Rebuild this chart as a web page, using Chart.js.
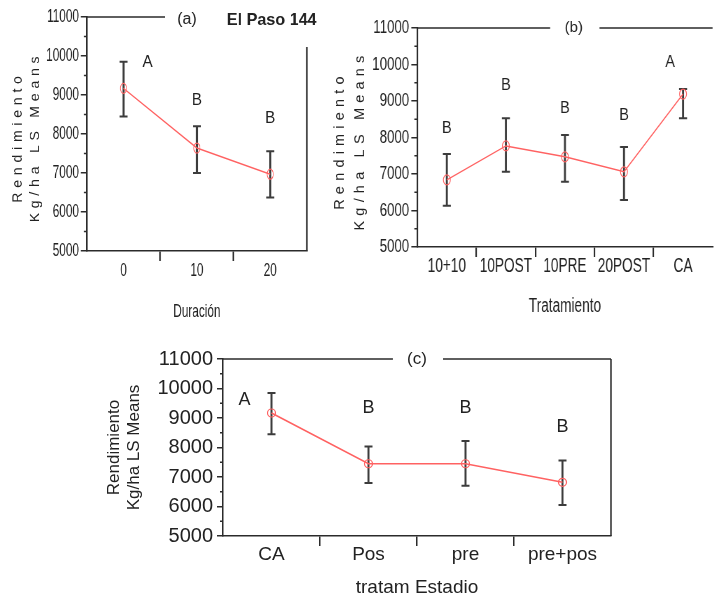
<!DOCTYPE html>
<html>
<head>
<meta charset="utf-8">
<script src="https://cdn.jsdelivr.net/npm/chart.js@4.4.1/dist/chart.umd.min.js"></script>
<style>
  body { margin: 0; background: #fff; }
  .panel { position: absolute; transform-origin: 0 0; }
</style>
</head>
<body>
<!-- panels (a) and (b) are drawn wider and squeezed, like the condensed original -->
<div class="panel" style="left:0;top:0;transform:scaleX(0.62)"><canvas id="chartA" width="516" height="330"></canvas></div>
<div class="panel" style="left:320px;top:0;transform:scaleX(0.7)"><canvas id="chartB" width="567" height="330"></canvas></div>
<div class="panel" style="left:0;top:330px"><canvas id="chartC" width="717" height="267"></canvas></div>

<script>
// (a) Duración
const duracion = ["0", "10", "20"];
const duracionMedia = [9170, 7640, 6970];
const duracionInf = [8450, 7000, 6370];
const duracionSup = [9850, 8200, 7560];
const duracionLetras = ["A", "B", "B"];
const duracionLetrasY = [9850, 8870, 8410];

// (b) Tratamiento
const tratamiento = ["10+10", "10POST", "10PRE", "20POST", "CA"];
const tratamientoMedia = [6840, 7770, 7470, 7060, 9190];
const tratamientoInf = [6130, 7060, 6790, 6290, 8530];
const tratamientoSup = [7550, 8530, 8070, 7740, 9330];
const tratamientoLetras = ["B", "B", "B", "B", "A"];
const tratamientoLetrasY = [8260, 9440, 8810, 8620, 10070];

// (c) tratam Estadio
const estadio = ["CA", "Pos", "pre", "pre+pos"];
const estadioMedia = [9170, 7450, 7450, 6820];
const estadioInf = [8450, 6800, 6700, 6050];
const estadioSup = [9850, 8030, 8220, 7560];
const estadioLetras = ["A", "B", "B", "B"];
const estadioLetrasY = [9610, 9340, 9340, 8700];

const yMin = 5000;
const yMax = 11000;
const yTitulo = ["Rendimiento", "Kg/ha LS Means"];

const RED = "#ff6262";
const AXIS = "#2b2b2b";
const TEXT = "#222";
const ERR = "#3c3c3c";
const ARIAL = "'Liberation Sans', Arial, sans-serif";

function errorBars(sx) {
    return {
        id: "errorBars",
        beforeDatasetsDraw(chart) {
            const { ctx, scales: { y } } = chart;
            const ds = chart.data.datasets[0];
            const meta = chart.getDatasetMeta(0);
            const cap = 4 / sx;
            ctx.save();
            ctx.strokeStyle = ERR;
            meta.data.forEach((pt, i) => {
                const top = y.getPixelForValue(ds.errHi[i]);
                const bot = y.getPixelForValue(ds.errLo[i]);
                ctx.lineWidth = 2 / sx;
                ctx.beginPath();
                ctx.moveTo(pt.x, top);
                ctx.lineTo(pt.x, bot);
                ctx.stroke();
                ctx.lineWidth = 2;
                ctx.beginPath();
                ctx.moveTo(pt.x - cap, top);
                ctx.lineTo(pt.x + cap, top);
                ctx.moveTo(pt.x - cap, bot);
                ctx.lineTo(pt.x + cap, bot);
                ctx.stroke();
            });
            ctx.restore();
        }
    };
}

function panelPlugin(look) {
    const sx = look.sx;
    function text(ctx, txt, x, y, font, k) {
        ctx.save();
        ctx.translate(x, y);
        ctx.scale(k / sx, 1);
        ctx.font = font;
        ctx.fillText(txt, 0, 0);
        ctx.restore();
    }
    return {
        id: "panel",
        afterDraw(chart) {
            const { ctx, chartArea: a, scales: { y } } = chart;
            const ds = chart.data.datasets[0];
            const meta = chart.getDatasetMeta(0);
            const w = a.right - a.left;
            ctx.save();
            ctx.strokeStyle = AXIS;
            ctx.lineWidth = 1.5;
            ctx.beginPath();
            look.topLine.forEach(([f0, f1]) => {
                ctx.moveTo(a.left + f0 * w, a.top);
                ctx.lineTo(a.left + f1 * w, a.top);
            });
            // minor ticks
            for (let v = yMin + 500; v < yMax; v += 1000) {
                const py = y.getPixelForValue(v);
                ctx.moveTo(a.left - 3 / sx, py);
                ctx.lineTo(a.left, py);
            }
            ctx.stroke();
            if (look.rightGap !== null) {
                ctx.lineWidth = 1.5 / sx;
                ctx.beginPath();
                ctx.moveTo(a.right, a.top + look.rightGap);
                ctx.lineTo(a.right, a.bottom);
                ctx.stroke();
            }

            ctx.fillStyle = TEXT;
            ctx.textAlign = "center";
            ctx.textBaseline = "middle";
            text(ctx, look.label, a.left + look.labelAt * w, a.top + look.labelDy, look.labelFont, 1);
            if (look.extra) {
                text(ctx, look.extra.text, a.left + look.extra.at * w, a.top + look.labelDy, look.extra.font, look.extra.k);
            }
            meta.data.forEach((pt, i) => {
                text(ctx, ds.letters[i], pt.x + (look.letterDx[i] || 0) / sx,
                    y.getPixelForValue(ds.letterY[i]), look.letterFont, look.letterK);
            });

            // letter-spaced, rotated y title
            if (look.spacedTitle) {
                const t = look.spacedTitle;
                yTitulo.forEach((txt, i) => {
                    ctx.save();
                    ctx.translate(t.x[i] / sx, (a.top + a.bottom) / 2 + t.dy);
                    ctx.scale(1 / sx, 1);
                    ctx.rotate(-Math.PI / 2);
                    ctx.font = t.font;
                    ctx.letterSpacing = t.spacing;
                    ctx.fillText(txt, 0, 0);
                    ctx.restore();
                });
            }
            ctx.restore();
        }
    };
}

function buildChart(id, labels, media, inf, sup, letras, letrasY, look) {
    const sx = look.sx;
    return new Chart(document.getElementById(id), {
        type: "line",
        data: {
            labels: labels,
            datasets: [{
                data: media,
                errLo: inf,
                errHi: sup,
                letters: letras,
                letterY: letrasY,
                borderColor: RED,
                borderWidth: 1.5,
                pointStyle: "circle",
                pointRadius: look.pointRadius,
                pointBorderWidth: 1.2,
                pointBorderColor: RED,
                pointBackgroundColor: "rgba(0,0,0,0)",
                tension: 0
            }]
        },
        options: {
            responsive: false,
            animation: false,
            layout: { padding: look.padding },
            plugins: {
                legend: { display: false },
                tooltip: { enabled: false }
            },
            scales: {
                x: {
                    type: "category",
                    offset: true,
                    grid: {
                        offset: true,
                        drawOnChartArea: false,
                        tickLength: 10,
                        lineWidth: 1.5 / sx,
                        color: (c) => (c.index > 0 ? AXIS : "rgba(0,0,0,0)")
                    },
                    border: { display: true, color: AXIS, width: 1.5 },
                    ticks: {
                        font: look.xFont,
                        color: TEXT,
                        padding: look.xPad,
                        maxRotation: 0,
                        autoSkip: false
                    },
                    title: {
                        display: true,
                        text: look.xTitle,
                        font: look.xTitleFont,
                        color: TEXT,
                        padding: { top: 0, bottom: look.xTitlePad }
                    },
                    afterFit: (s) => { s.height = look.xHeight; }
                },
                y: {
                    min: yMin,
                    max: yMax,
                    grid: {
                        drawOnChartArea: false,
                        tickLength: 6 / sx,
                        lineWidth: 1.5,
                        tickColor: (c) => (c.tick && c.tick.value % 1000 === 0 ? AXIS : "rgba(0,0,0,0)")
                    },
                    border: { display: true, color: AXIS, width: 1.5 / sx },
                    ticks: {
                        stepSize: 500,
                        font: look.yFont,
                        color: TEXT,
                        padding: look.yPad,
                        callback: (v) => (v % 1000 === 0 ? v : "")
                    },
                    title: look.yTitleFont ? {
                        display: true,
                        text: yTitulo,
                        font: look.yTitleFont,
                        color: TEXT,
                        padding: { top: look.yTitlePad, bottom: 0 }
                    } : { display: false },
                    afterFit: (s) => { s.width = look.yWidth; }
                }
            }
        },
        plugins: [errorBars(sx), panelPlugin(look)]
    });
}

buildChart("chartA", duracion, duracionMedia, duracionInf, duracionSup, duracionLetras, duracionLetrasY, {
    sx: 0.62,
    padding: { top: 17, right: 21, left: 0, bottom: 0 },
    yWidth: 140,
    xHeight: 79,
    pointRadius: 5,
    yFont: { family: ARIAL, size: 19 },
    yPad: 3,
    spacedTitle: { font: "14px " + ARIAL, spacing: "4.8px", x: [18, 35], dy: 3 },
    xFont: { family: ARIAL, size: 19, lineHeight: 1 },
    xPad: 0,
    xTitle: "Duración",
    xTitleFont: { family: ARIAL, size: 19, lineHeight: 1 },
    xTitlePad: 9,
    topLine: [[0, 0.355]],
    rightGap: 30,
    label: "(a)",
    labelFont: "16px " + ARIAL,
    labelAt: 0.455,
    labelDy: 3,
    extra: { text: "El Paso 144", font: "bold 17px " + ARIAL, at: 0.84, k: 0.95 },
    letterFont: "17px " + ARIAL,
    letterK: 0.9,
    letterDx: [24, 0, 0]
});

buildChart("chartB", tratamiento, tratamientoMedia, tratamientoInf, tratamientoSup, tratamientoLetras, tratamientoLetrasY, {
    sx: 0.7,
    padding: { top: 28, right: 0, left: 0, bottom: 0 },
    yWidth: 139,
    xHeight: 83,
    pointRadius: 5,
    yFont: { family: ARIAL, size: 19 },
    yPad: 3,
    spacedTitle: { font: "14.5px " + ARIAL, spacing: "5.2px", x: [20, 40], dy: 3 },
    xFont: { family: ARIAL, size: 19.5, lineHeight: 1 },
    xPad: 0,
    xTitle: "Tratamiento",
    xTitleFont: { family: ARIAL, size: 19.5, lineHeight: 1 },
    xTitlePad: 14,
    topLine: [[0, 0.45], [0.617, 1]],
    rightGap: null,
    label: "(b)",
    labelFont: "15px " + ARIAL,
    labelAt: 0.53,
    labelDy: 0,
    letterFont: "17px " + ARIAL,
    letterK: 0.85,
    letterDx: [0, 0, 0, 0, -13]
});

buildChart("chartC", estadio, estadioMedia, estadioInf, estadioSup, estadioLetras, estadioLetrasY, {
    sx: 1,
    padding: { top: 29, right: 106, left: 0, bottom: 0 },
    yWidth: 223,
    xHeight: 61,
    pointRadius: 4,
    yFont: { family: ARIAL, size: 20 },
    yPad: 4,
    yTitleFont: { family: ARIAL, size: 17, lineHeight: 1.2 },
    yTitlePad: 104,
    xFont: { family: ARIAL, size: 19, lineHeight: 1 },
    xPad: -1,
    xTitle: "tratam Estadio",
    xTitleFont: { family: ARIAL, size: 19, lineHeight: 1 },
    xTitlePad: 0,
    topLine: [[0, 0.438], [0.567, 1]],
    rightGap: 0,
    label: "(c)",
    labelFont: "17px " + ARIAL,
    labelAt: 0.5,
    labelDy: 0,
    letterFont: "18px " + ARIAL,
    letterK: 1,
    letterDx: [-27, 0, 0, 0]
});
</script>
</body>
</html>
